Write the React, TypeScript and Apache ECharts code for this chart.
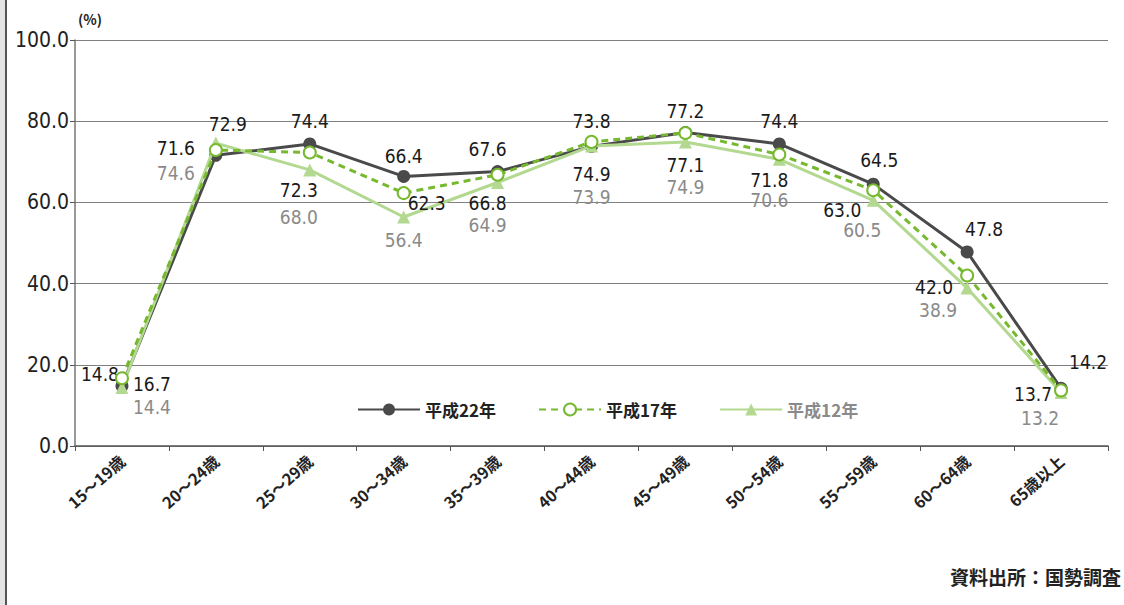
import React, { useEffect, useRef } from "react";
import * as echarts from "echarts";

const categories = ["15～19歳", "20～24歳", "25～29歳", "30～34歳", "35～39歳", "40～44歳", "45～49歳", "50～54歳", "55～59歳", "60～64歳", "65歳以上"];
const seriesNames = ["平成22年", "平成17年", "平成12年"];
const h22 = [14.8, 71.6, 74.4, 66.4, 67.6, 73.8, 77.2, 74.4, 64.5, 47.8, 14.2];
const h17 = [16.7, 72.9, 72.3, 62.3, 66.8, 74.9, 77.1, 71.8, 63.0, 42.0, 13.7];
const h12 = [14.4, 74.6, 68.0, 56.4, 64.9, 73.9, 74.9, 70.6, 60.5, 38.9, 13.2];
const yTicks = [0, 20, 40, 60, 80, 100];

// label placement offsets (px) relative to each point
const h22Offsets = [[-22, -12], [-40, -7], [0, -23], [0, -20], [-10, -23], [0, -25], [0, -22], [0, -23], [6, -24], [17, -23], [27, -26]];
const h17Offsets = [[30, 6], [12, -26], [-11, 38], [23, 10], [-10, 28], [0, 32], [0, 32], [-10, 26], [-31, 20], [-33, 12], [-28, 4]];
const h12Offsets = [[30, 19], [-40, 30], [-11, 47], [0, 23], [-10, 42], [0, 51], [0, 45], [-10, 41], [-11, 30], [-29, 22], [-21, 26]];

const NUM_FONT = "'DejaVu Sans Condensed', 'Liberation Sans Narrow', sans-serif";
const JP_FONT = "'Noto Sans CJK JP', sans-serif";

function mkData(vals: number[], offs: number[][]) {
  return vals.map((v, i) => ({ value: v, label: { offset: offs[i] } }));
}

export default function App() {
  const ref = useRef<HTMLDivElement>(null);
  useEffect(() => {
    if (!ref.current) return;
    const chart = echarts.init(ref.current, null, { renderer: "svg" });
    const labelBase = {
      show: true,
      position: "inside",
      fontFamily: NUM_FONT,
      fontSize: 19,
      formatter: (p: any) => Number(p.value).toFixed(1),
    };
    chart.setOption({
      animation: false,
      backgroundColor: "#ffffff",
      grid: { left: 75, right: 16, top: 40, bottom: 159 },
      legend: {
        left: 352,
        top: 396,
        itemWidth: 62,
        itemHeight: 15,
        itemGap: 42,
        textStyle: { fontFamily: JP_FONT, fontSize: 17, fontWeight: "bold", color: "#222" },
        data: [
          { name: seriesNames[0] },
          { name: seriesNames[1] },
          { name: seriesNames[2], textStyle: { color: "#8a8a8a" } },
        ],
      },
      xAxis: {
        type: "category",
        data: categories,
        boundaryGap: true,
        axisLine: { lineStyle: { color: "#555", width: 1.5 } },
        axisTick: { show: true, length: 5, lineStyle: { color: "#555" } },
        axisLabel: {
          rotate: 42,
          margin: 12,
          fontFamily: JP_FONT,
          fontSize: 16,
          fontWeight: "bold",
          color: "#222",
        },
      },
      yAxis: {
        type: "value",
        min: yTicks[0],
        max: yTicks[yTicks.length - 1],
        interval: 20,
        axisLine: { show: true, lineStyle: { color: "#777", width: 1.5 } },
        axisTick: { show: true, length: 5, lineStyle: { color: "#555" } },
        axisLabel: {
          margin: 6,
          fontFamily: NUM_FONT,
          fontSize: 21,
          color: "#222",
          formatter: (v: number) => v.toFixed(1),
        },
        splitLine: { lineStyle: { color: "#808080", width: 1.2 } },
      },
      series: [
        {
          name: seriesNames[0],
          type: "line",
          z: 2,
          data: mkData(h22, h22Offsets),
          symbol: "circle",
          symbolSize: 13,
          lineStyle: { color: "#4a4a4a", width: 3 },
          itemStyle: { color: "#4a4a4a" },
          label: { ...labelBase, color: "#1a1a1a" },
        },
        {
          name: seriesNames[2],
          type: "line",
          z: 3,
          data: mkData(h12, h12Offsets),
          symbol: "triangle",
          symbolSize: 13,
          lineStyle: { color: "#b3d890", width: 3 },
          itemStyle: { color: "#b3d890" },
          label: { ...labelBase, color: "#8a8a8a" },
        },
        {
          name: seriesNames[1],
          type: "line",
          z: 4,
          data: mkData(h17, h17Offsets),
          symbol: "emptyCircle",
          symbolSize: 12,
          lineStyle: { color: "#76b82e", width: 3, type: [7, 5] },
          itemStyle: { color: "#76b82e", borderWidth: 3 },
          label: { ...labelBase, color: "#1a1a1a" },
        },
      ],
      graphic: [
        { type: "rect", left: 0, top: 0, shape: { width: 5, height: 605 }, style: { fill: "#e3e5e4" } },
        { type: "rect", left: 5, top: 0, shape: { width: 2, height: 605 }, style: { fill: "#555" } },
        {
          type: "text",
          left: 78,
          top: 12,
          style: { text: "(%)", fontFamily: JP_FONT, fontSize: 14, fontWeight: "bold", fill: "#222" },
        },
        {
          type: "text",
          right: 3,
          top: 567,
          style: { text: "資料出所：国勢調査", fontFamily: JP_FONT, fontSize: 19, fontWeight: "bold", fill: "#222" },
        },
      ],
    });
    return () => chart.dispose();
  }, []);
  return (
    <div
      ref={ref}
      style={{ position: "fixed", left: 0, top: 0, width: 1124, height: 605, background: "#fff" }}
    />
  );
}
